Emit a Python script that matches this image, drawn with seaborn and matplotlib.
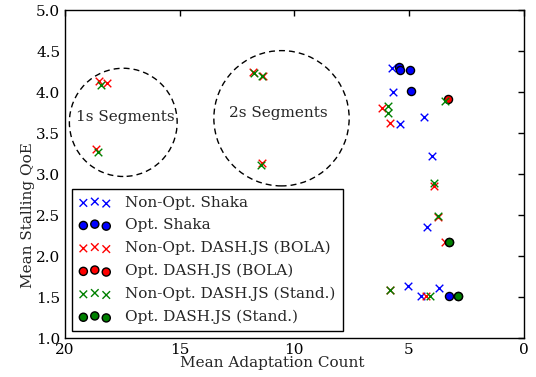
import numpy as np
import pandas as pd
import matplotlib
matplotlib.use("Agg")
import matplotlib.pyplot as plt
from matplotlib.patches import Ellipse
import seaborn as sns

# Thiết lập hiển thị kiểu cổ điển
sns.set_style("white")
plt.rcParams['font.family'] = ['DejaVu Serif']
plt.rcParams['font.size'] = 11
plt.rcParams['xtick.direction'] = 'in'
plt.rcParams['ytick.direction'] = 'in'
plt.rcParams['xtick.top'] = True
plt.rcParams['ytick.right'] = True
plt.rcParams['axes.edgecolor'] = 'black'
plt.rcParams['axes.linewidth'] = 1.0

# 1. DỮ LIỆU
nonopt_shaka_x = [5.73, 5.68, 5.41, 4.35, 4.01, 4.20, 5.05, 4.46, 3.71]
nonopt_shaka_y = [4.29, 4.00, 3.61, 3.69, 3.22, 2.36, 1.63, 1.51, 1.61]

opt_shaka_x = [5.44, 5.38, 4.97, 4.93, 3.27]
opt_shaka_y = [4.30, 4.27, 4.27, 4.01, 1.51]

nonopt_bola_x = [18.52, 18.16, 18.65, 11.80, 11.37, 11.43,
                 6.16, 5.81, 3.92, 3.73, 3.45, 5.84, 4.24]
nonopt_bola_y = [4.14, 4.11, 3.31, 4.25, 4.20, 3.14,
                 3.81, 3.62, 2.85, 2.48, 2.17, 1.59, 1.51]

opt_bola_x = [3.30, 3.25, 2.86]
opt_bola_y = [3.91, 2.17, 1.51]

nonopt_stand_x = [18.41, 18.58, 11.78, 11.40, 11.47,
                  5.91, 5.91, 3.92, 3.73, 3.44, 5.84, 4.10]
nonopt_stand_y = [4.085, 3.265, 4.235, 4.19, 3.11,
                  3.83, 3.75, 2.89, 2.49, 3.89, 1.59, 1.51]

opt_stand_x = [3.25, 2.86]
opt_stand_y = [2.17, 1.51]

series = [
    ("Non-Opt. Shaka", nonopt_shaka_x, nonopt_shaka_y, 'x', 'b'),
    ("Opt. Shaka", opt_shaka_x, opt_shaka_y, 'o', 'b'),
    ("Non-Opt. DASH.JS (BOLA)", nonopt_bola_x, nonopt_bola_y, 'x', 'r'),
    ("Opt. DASH.JS (BOLA)", opt_bola_x, opt_bola_y, 'o', 'r'),
    ("Non-Opt. DASH.JS (Stand.)", nonopt_stand_x, nonopt_stand_y, 'x', 'g'),
    ("Opt. DASH.JS (Stand.)", opt_stand_x, opt_stand_y, 'o', 'g'),
]

# 2. VẼ BIỂU ĐỒ
fig = plt.figure(figsize=(5.36, 3.77), dpi=100)
ax = fig.add_axes([0.1213, 0.1034, 0.8557, 0.870])

for name, xs, ys, mk, col in series:
    df = pd.DataFrame({'x': xs, 'y': ys})
    if mk == 'o':
        sns.scatterplot(data=df, x='x', y='y', ax=ax, marker='o', color=col,
                        edgecolor='k', linewidth=1, s=34, label=name)
    else:
        sns.scatterplot(data=df, x='x', y='y', ax=ax, marker='x', color=col,
                        linewidth=1, s=30, label=name)

# Vòng tròn nét đứt
ax.add_patch(Ellipse((17.46, 3.63), 4.70, 1.32, fill=False, ec='k', lw=1.0,
                     ls=(0, (4.3, 2.9))))
ax.add_patch(Ellipse((10.56, 3.68), 5.90, 1.65, fill=False, ec='k', lw=1.0,
                     ls=(0, (4.3, 2.9))))
ax.text(17.35, 3.69, "1s Segments", ha='center', va='center', fontsize=11)
ax.text(10.69, 3.75, "2s Segments", ha='center', va='center', fontsize=11)

ax.set_xlim(20, 0)
ax.set_ylim(1.0, 5.0)
ax.set_xticks([20, 15, 10, 5, 0])
ax.set_yticks(np.arange(1.0, 5.01, 0.5))
ax.set_yticklabels([f"{v:.1f}" for v in np.arange(1.0, 5.01, 0.5)])
ax.tick_params(length=4, width=1, colors='k', labelsize=11)

ax.set_xlabel("Mean Adaptation Count", fontsize=11)
ax.set_ylabel("Mean Stalling QoE", fontsize=11)
ax.xaxis.set_label_coords(0.452, -0.055)
ax.yaxis.set_label_coords(-0.065, 0.375)

leg = ax.legend(loc='lower left', scatterpoints=3,
                scatteryoffsets=[0.375, 0.5, 0.3125],
                fancybox=False, framealpha=1, edgecolor='k',
                handlelength=2.1, handletextpad=0.95, borderpad=0.45,
                labelspacing=0.56, fontsize=11, borderaxespad=0.45)
leg.get_frame().set_linewidth(1.0)

fig.savefig("out.png", dpi=100)
